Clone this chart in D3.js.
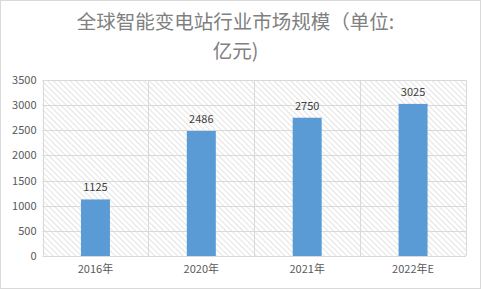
<!DOCTYPE html>
<html><head><meta charset="utf-8">
<script src="https://cdn.jsdelivr.net/npm/d3@7"></script>
<style>body{margin:0;background:#fff}svg{display:block}</style>
</head><body>
<script>
const categories = ["2016年", "2020年", "2021年", "2022年E"];
const values = [1125, 2486, 2750, 3025];
const yTicks = [0, 500, 1000, 1500, 2000, 2500, 3000, 3500];
const titleLines = ["全球智能变电站行业市场规模（单位:", "亿元)"];

const W = 481, H = 289;
const m = {left: 42.5, right: 15, top: 80, bottom: 33};
const svg = d3.select("body").append("svg").attr("width", W).attr("height", H);
const font = "'Microsoft YaHei','Noto Sans CJK SC','DejaVu Sans',sans-serif";

svg.append("rect").attr("x", 0.5).attr("y", 0.5).attr("width", W - 1).attr("height", H - 1)
  .attr("fill", "#fff").attr("stroke", "#d9d9d9");

const defs = svg.append("defs");
const pat = defs.append("pattern").attr("id", "hatch").attr("patternUnits", "userSpaceOnUse")
  .attr("width", 4).attr("height", 4).attr("patternTransform", "rotate(-45)");
pat.append("line").attr("x1", 0).attr("y1", 0).attr("x2", 0).attr("y2", 4)
  .attr("stroke", "#c8c8c8").attr("stroke-width", 1);

const x = d3.scaleBand().domain(categories).range([m.left, W - m.right]).paddingInner(0).paddingOuter(0);
const y = d3.scaleLinear().domain([0, 3500]).range([H - m.bottom, m.top]);

const g = svg.append("g");
g.append("rect").attr("x", m.left).attr("y", m.top).attr("width", W - m.right - m.left)
  .attr("height", H - m.bottom - m.top).attr("fill", "url(#hatch)");

// horizontal grid
g.selectAll(".hg").data(yTicks).enter().append("line")
  .attr("x1", m.left).attr("x2", W - m.right)
  .attr("y1", d => Math.round(y(d)) + 0.5).attr("y2", d => Math.round(y(d)) + 0.5)
  .attr("stroke", "#d9d9d9").attr("stroke-width", 1);
// vertical grid
const vx = categories.map(c => x(c)).concat([x.range()[1]]);
g.selectAll(".vg").data(vx).enter().append("line")
  .attr("x1", d => Math.round(d) + 0.5).attr("x2", d => Math.round(d) + 0.5)
  .attr("y1", m.top).attr("y2", H - m.bottom)
  .attr("stroke", "#d9d9d9").attr("stroke-width", 1);

// y axis
const yAxis = d3.axisLeft(y).tickValues(yTicks).tickFormat(d3.format("d")).tickSize(0).tickPadding(6);
const ya = svg.append("g").attr("transform", `translate(${m.left},0)`).call(yAxis);
ya.select(".domain").remove();
ya.selectAll("text").attr("fill", "#595959").style("font-size", "11px").style("font-family", font);

// x axis
const xAxis = d3.axisBottom(x).tickSize(0).tickPadding(9);
const xa = svg.append("g").attr("transform", `translate(0,${H - m.bottom})`).call(xAxis);
xa.select(".domain").remove();
xa.selectAll("text").attr("fill", "#595959").style("font-size", "11px").style("font-family", font);

// bars
const bw = 29;
svg.selectAll(".bar").data(values).enter().append("rect")
  .attr("x", (d, i) => x(categories[i]) + x.bandwidth() / 2 - bw / 2)
  .attr("width", bw)
  .attr("y", d => y(d)).attr("height", d => y(0) - y(d))
  .attr("fill", "#5b9bd5");

svg.selectAll(".lbl").data(values).enter().append("text")
  .attr("x", (d, i) => x(categories[i]) + x.bandwidth() / 2)
  .attr("y", d => y(d) - 8)
  .attr("text-anchor", "middle").attr("fill", "#404040")
  .style("font-size", "11px").style("font-family", font).text(d => d);

// title (wrapped over two lines)
const title = svg.append("text")
  .attr("text-anchor", "middle").attr("fill", "#808080")
  .style("font-size", "19.5px").style("font-family", font);
title.selectAll("tspan").data(titleLines).enter().append("tspan")
  .attr("x", W / 2 - 5).attr("y", (d, i) => 29 + i * 28.5).text(d => d);
</script>
</body></html>
